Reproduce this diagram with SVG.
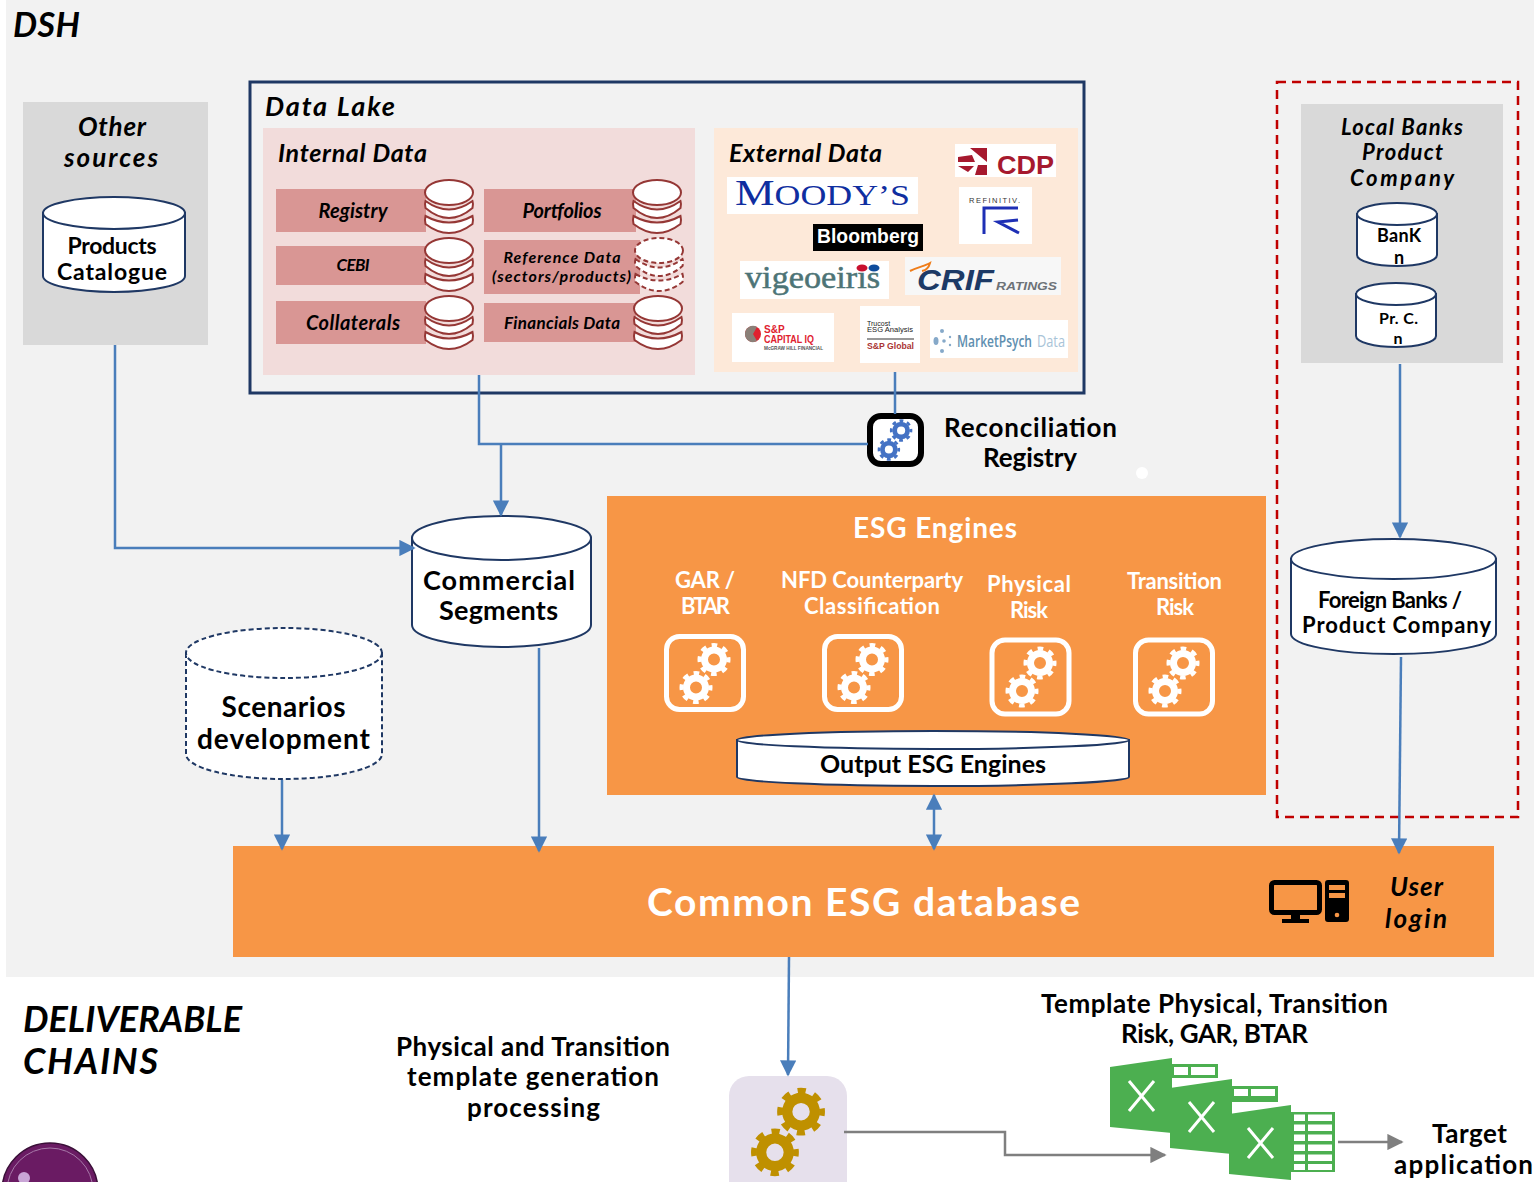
<svg xmlns="http://www.w3.org/2000/svg" xmlns:xlink="http://www.w3.org/1999/xlink" width="1534" height="1182" viewBox="0 0 1534 1182">
<style>
text{font-family:"Lato","Liberation Sans",sans-serif;font-weight:700;fill:#000;text-anchor:middle}
.i{font-style:italic}
.l{text-anchor:start}
.w{fill:#fff}
.a{font-family:"Liberation Sans",Arial,sans-serif}
.s{font-family:"Liberation Serif","Times New Roman",serif;font-weight:400}
.cyl{fill:#fff;stroke:#1f3864;stroke-width:2}
.dash{stroke-dasharray:5 3}
.st{fill:#fff;stroke:#953735;stroke-width:2}
.std{stroke-dasharray:5 3}
.bar{fill:#d99694}
.blue{fill:none;stroke:#4a7ebb;stroke-width:2.5}
.grey{fill:none;stroke:#7f7f7f;stroke-width:2.5}
.box{fill:none;stroke:#fff;stroke-width:5}
.logo{fill:#fff}
</style>
<defs>
<marker id="ab" viewBox="0 0 10 10" refX="9" refY="5" markerWidth="6.500" markerHeight="6.500" orient="auto-start-reverse" markerUnits="strokeWidth"><path d="M0 0L10 5L0 10Z" fill="#4a7ebb"/></marker>
<marker id="ag" viewBox="0 0 10 10" refX="9" refY="5" markerWidth="6.500" markerHeight="6.500" orient="auto" markerUnits="strokeWidth"><path d="M0 0L10 5L0 10Z" fill="#7f7f7f"/></marker>
<g id="gear" fill="none" stroke="currentColor">
<circle r="9.500" stroke-width="7"/>
<circle r="14.500" stroke-width="4" stroke-dasharray="5.700 5.690" stroke-dashoffset="2.850"/>
</g>
<g id="gears2"><use xlink:href="#gear" x="9" y="-14"/><use xlink:href="#gear" x="-9" y="14"/></g>
<g id="stack">
<path class="st" d="M-23.500 36Q0 49 23.500 36Q24.500 40 23.500 44Q0 62 -23.500 44Q-24.500 40 -23.500 36Z"/>
<path class="st" d="M-23.500 21Q0 38 23.500 21Q24.500 24 23.500 28Q0 48 -23.500 28Q-24.500 24 -23.500 21Z"/>
<ellipse class="st" cx="0" cy="12.500" rx="24" ry="12.500"/>
</g>
<g id="stackd">
<path class="st std" d="M-23.500 36Q0 49 23.500 36Q24.500 40 23.500 44Q0 62 -23.500 44Q-24.500 40 -23.500 36Z"/>
<path class="st std" d="M-23.500 21Q0 38 23.500 21Q24.500 24 23.500 28Q0 48 -23.500 28Q-24.500 24 -23.500 21Z"/>
<ellipse class="st std" cx="0" cy="12.500" rx="24" ry="12.500"/>
</g>
<g id="xl">
<path d="M0 9L62 0V75L0 69Z" fill="#4caf50"/>
<path d="M19 23L44 53M44 23L19 53" stroke="#fff" stroke-width="3" fill="none"/>
</g>
</defs>

<rect width="1534" height="1182" fill="#fff"/>
<rect x="6" y="0" width="1528" height="977" fill="#f2f2f2"/>
<text class="i l" x="13" y="37" font-size="34" textLength="67">DSH</text>

<g id="other-sources">
<rect x="23" y="102" width="185" height="243" fill="#d9d9d9"/>
<text class="i" x="112" y="136" font-size="26" textLength="68">Other</text>
<text class="i" x="111" y="167" font-size="26" textLength="94">sources</text>
</g>
<g id="products-catalogue">
<path class="cyl" d="M43 213V276A71 16 0 0 0 185 276V213Z"/>
<ellipse class="cyl" cx="114" cy="213" rx="71" ry="16"/>
<text x="112" y="254" font-size="23" textLength="89">Products</text>
<text x="112" y="280" font-size="23" textLength="110">Catalogue</text>
</g>

<g id="data-lake">
<rect x="250" y="82" width="834" height="311" fill="none" stroke="#1f3864" stroke-width="3"/>
<text class="i l" x="265" y="116" font-size="27" textLength="130">Data Lake</text>
</g>
<g id="internal-data">
<rect x="263" y="128" width="432" height="247" fill="#f2dcdb"/>
<text class="i l" x="278" y="162" font-size="25" textLength="149">Internal Data</text>
</g>
<g id="registry"><rect class="bar" x="276" y="189" width="150" height="43"/><use xlink:href="#stack" x="449" y="180"/><text class="i" x="353" y="218" font-size="20" textLength="69">Registry</text></g>
<g id="portfolios"><rect class="bar" x="484" y="189" width="152" height="43"/><use xlink:href="#stack" x="657" y="180"/><text class="i" x="562" y="218" font-size="20" textLength="79">Portfolios</text></g>
<g id="cebi"><rect class="bar" x="276" y="246" width="150" height="39"/><use xlink:href="#stack" x="449" y="238"/><text class="i" x="353" y="271" font-size="17" textLength="33">CEBI</text></g>
<g id="reference-data"><rect class="bar" x="484" y="240" width="156" height="54"/><use xlink:href="#stackd" x="659" y="238"/><text class="i" x="562" y="263" font-size="16" textLength="117">Reference Data</text><text class="i" x="561.500" y="282" font-size="16" textLength="139">(sectors/products)</text></g>
<g id="collaterals"><rect class="bar" x="276" y="301" width="150" height="43"/><use xlink:href="#stack" x="449" y="296"/><text class="i" x="353" y="330" font-size="20" textLength="94">Collaterals</text></g>
<g id="financials-data"><rect class="bar" x="484" y="303" width="152" height="39"/><use xlink:href="#stack" x="658" y="296"/><text class="i" x="562" y="329" font-size="17" textLength="116">Financials Data</text></g>

<g id="external-data">
<rect x="714" y="128" width="364" height="244" fill="#fde9d9"/>
<text class="i l" x="729" y="162" font-size="25" textLength="153">External Data</text>
</g>
<g id="logo-moodys"><rect class="logo" x="727" y="177" width="191" height="37"/><text class="s l" x="735" y="205" font-size="36" textLength="175" lengthAdjust="spacingAndGlyphs" style="fill:#0f2ea0">M<tspan font-size="29">OODY’S</tspan></text></g>
<g id="logo-cdp"><rect class="logo" x="955" y="144" width="101" height="33"/><path d="M970 148H987V162ZM958 157L972 155L975 162H958ZM958 166H974L968 172ZM975 175H987V165H978Z" fill="#a6192e"/><text class="a l" x="997" y="174" font-size="25" textLength="57" lengthAdjust="spacingAndGlyphs" style="fill:#a6192e">CDP</text></g>
<g id="logo-refinitiv"><rect class="logo" x="959" y="187" width="73" height="57"/><text class="a l" x="969" y="203" font-size="7.500" textLength="51" style="fill:#333;font-weight:400">REFINITIV.</text><path d="M984 234V208H1018M1018 220L998 222L1019 233" fill="none" stroke="#1e2fb5" stroke-width="3"/></g>
<g id="logo-bloomberg"><rect x="813" y="224" width="110" height="27" fill="#000"/><text class="a w l" x="817" y="243" font-size="20" textLength="102" lengthAdjust="spacingAndGlyphs">Bloomberg</text></g>
<g id="logo-vigeo"><rect class="logo" x="740" y="261" width="149" height="38"/><text class="s l" x="745" y="288" font-size="31" textLength="135" lengthAdjust="spacingAndGlyphs" style="fill:#4d7476;font-weight:400;stroke:#4d7476;stroke-width:.5">vigeoeiris</text><ellipse cx="862" cy="268" rx="5.500" ry="3.500" fill="#c8102e"/><ellipse cx="874" cy="268" rx="5.500" ry="3.500" fill="#0f4c9c"/></g>
<g id="logo-crif"><rect x="905" y="257" width="156" height="38" fill="#f7f7f7"/><path d="M910 271C918 267 925 266 930 263C929 267 927 270 922 271" fill="none" stroke="#ef7d1a" stroke-width="2"/><text class="a i l" x="917" y="290" font-size="30" textLength="77" lengthAdjust="spacingAndGlyphs" style="fill:#1d3a66">CRIF</text><text class="a i l" x="996" y="290" font-size="11.500" textLength="61" lengthAdjust="spacingAndGlyphs" style="fill:#6d7278">RATINGS</text></g>
<g id="logo-capital-iq"><rect class="logo" x="732" y="313" width="102" height="49"/><circle cx="753" cy="334" r="8" fill="#e0212f"/><path d="M745 334A8 8 0 0 1 757 327L753 334L757 341A8 8 0 0 1 745 334Z" fill="#8a8078"/><text class="a l" x="764" y="333" font-size="10" style="fill:#e0212f">S&amp;P</text><text class="a l" x="764" y="342.500" font-size="11" textLength="50" lengthAdjust="spacingAndGlyphs" style="fill:#e0212f">CAPITAL IQ</text><text class="a l" x="764" y="350" font-size="5.500" textLength="59" lengthAdjust="spacingAndGlyphs" style="fill:#555">McGRAW HILL FINANCIAL</text></g>
<g id="logo-trucost"><rect class="logo" x="860" y="306" width="60" height="57"/><text class="a l" x="867" y="325.500" font-size="7" style="fill:#222;font-weight:400">Trucost</text><text class="a l" x="867" y="332" font-size="7" textLength="46" lengthAdjust="spacingAndGlyphs" style="fill:#222;font-weight:400">ESG Analysis</text><rect x="867" y="338.500" width="47" height="1" fill="#333"/><text class="a l" x="867" y="348.500" font-size="9" textLength="47" lengthAdjust="spacingAndGlyphs" style="fill:#a33">S&amp;P Global</text></g>
<g id="logo-marketpsych"><rect class="logo" x="930" y="320" width="138" height="38"/><g fill="#86a9c9"><ellipse cx="936" cy="341" rx="2.500" ry="4"/><circle cx="942" cy="331" r="2"/><circle cx="942" cy="351" r="2"/><circle cx="944" cy="341" r="1.800"/><circle cx="950" cy="337" r="1.200"/><circle cx="950" cy="345" r="1.200"/></g><text class="l" x="957" y="347" font-size="16.500" textLength="75" lengthAdjust="spacingAndGlyphs" style="font-family:'Open Sans',sans-serif;font-weight:600;fill:#5f8fb0">MarketPsych</text><text class="l" x="1037" y="347" font-size="16.500" textLength="28" lengthAdjust="spacingAndGlyphs" style="font-family:'Open Sans',sans-serif;font-weight:400;fill:#a9c4d8">Data</text></g>

<g id="reconciliation-registry">
<rect x="870" y="416" width="51" height="48" rx="11" fill="#fff" stroke="#000" stroke-width="6"/>
<g color="#4472c4" transform="translate(895 440) scale(.68)"><use xlink:href="#gears2"/></g>
<text x="1030.500" y="437" font-size="26" textLength="173">Reconciliation</text>
<text x="1030" y="467" font-size="26" textLength="94">Registry</text>
</g>
<circle cx="1142" cy="473" r="6" fill="#fff"/>

<g id="commercial-segments">
<path class="cyl" d="M412 538V625A89.500 22 0 0 0 591 625V538Z"/>
<ellipse class="cyl" cx="501.500" cy="538" rx="89.500" ry="22"/>
<text x="499" y="590" font-size="27" textLength="152">Commercial</text>
<text x="498.500" y="620" font-size="27" textLength="119">Segments</text>
</g>
<g id="scenarios-development">
<path class="cyl dash" d="M186 653V754A98 25 0 0 0 382 754V653Z"/>
<ellipse class="cyl dash" cx="284" cy="653" rx="98" ry="25"/>
<text x="283.500" y="717" font-size="28" textLength="124">Scenarios</text>
<text x="283.500" y="749" font-size="28" textLength="173">development</text>
</g>

<g id="esg-engines">
<rect x="607" y="496" width="659" height="299" fill="#f79646"/>
<text class="w" x="935" y="538" font-size="28" textLength="164">ESG Engines</text>
</g>
<g id="engine-gar"><text class="w" x="705" y="588" font-size="22" textLength="60">GAR /</text><text class="w" x="705.500" y="614" font-size="22" textLength="49">BTAR</text><rect class="box" x="666.500" y="636.500" width="77" height="73" rx="13"/><g color="#fff" transform="translate(705 673.500)"><use xlink:href="#gears2"/></g></g>
<g id="engine-nfd"><text class="w" x="872" y="588" font-size="22" textLength="182">NFD Counterparty</text><text class="w" x="872" y="614" font-size="22" textLength="136">Classification</text><rect class="box" x="824.500" y="636.500" width="77" height="73" rx="13"/><g color="#fff" transform="translate(863 673.500)"><use xlink:href="#gears2"/></g></g>
<g id="engine-physical"><text class="w" x="1029" y="592" font-size="22" textLength="84">Physical</text><text class="w" x="1029" y="618" font-size="22" textLength="38">Risk</text><rect class="box" x="992" y="640" width="77" height="74" rx="13"/><g color="#fff" transform="translate(1031 677)"><use xlink:href="#gears2"/></g></g>
<g id="engine-transition"><text class="w" x="1174.500" y="589" font-size="22" textLength="95">Transition</text><text class="w" x="1175" y="615" font-size="22" textLength="38">Risk</text><rect class="box" x="1135.500" y="640" width="77" height="74" rx="13"/><g color="#fff" transform="translate(1174 677)"><use xlink:href="#gears2"/></g></g>
<g id="output-esg-engines">
<path class="cyl" d="M737 740V777A196 9 0 0 0 1129 777V740Z"/>
<ellipse class="cyl" cx="933" cy="740" rx="196" ry="9"/>
<text x="933" y="773" font-size="25" textLength="226">Output ESG Engines</text>
</g>

<g id="local-banks">
<rect x="1277" y="82" width="241" height="735" fill="none" stroke="#c00000" stroke-width="2.500" stroke-dasharray="9 6"/>
<rect x="1301" y="104" width="202" height="259" fill="#d9d9d9"/>
<text class="i" x="1402" y="135" font-size="22" textLength="122">Local Banks</text>
<text class="i" x="1402.500" y="160" font-size="22" textLength="81">Product</text>
<text class="i" x="1402" y="186" font-size="22" textLength="104">Company</text>
</g>
<g id="bank-n">
<path class="cyl" d="M1357 214V255A40 11 0 0 0 1437 255V214Z"/>
<ellipse class="cyl" cx="1397" cy="214" rx="40" ry="11"/>
<text x="1399" y="242" font-size="18" textLength="44">BanK</text>
<text x="1399" y="264" font-size="18">n</text>
</g>
<g id="pr-c-n">
<path class="cyl" d="M1356 294V336A40 11 0 0 0 1436 336V294Z"/>
<ellipse class="cyl" cx="1396" cy="294" rx="40" ry="11"/>
<text x="1398.500" y="324" font-size="16" textLength="39">Pr. C.</text>
<text x="1398" y="344" font-size="16">n</text>
</g>
<g id="foreign-banks">
<path class="cyl" d="M1291 559V634A102.500 20 0 0 0 1496 634V559Z"/>
<ellipse class="cyl" cx="1393.500" cy="559" rx="102.500" ry="20"/>
<text x="1390" y="608" font-size="22" textLength="144">Foreign Banks /</text>
<text x="1396.500" y="633" font-size="22" textLength="189">Product Company</text>
</g>

<g id="common-esg-database">
<rect x="233" y="846" width="1261" height="111" fill="#f79646"/>
<text class="w" x="863.500" y="916" font-size="39" textLength="433">Common ESG database</text>
<rect x="1271.500" y="882.500" width="48" height="30" rx="3" fill="none" stroke="#000" stroke-width="5"/>
<path d="M1291 915h9v5h-9zM1282 919h27v4h-27z"/>
<path d="M1328 880h18a3 3 0 0 1 3 3v36a3 3 0 0 1-3 3h-18a3 3 0 0 1-3-3v-36a3 3 0 0 1 3-3zM1329 885v5h16v-5zM1329 893v5h16v-5z" fill-rule="evenodd"/>
<circle cx="1337" cy="915" r="2.300" fill="#f79646"/>
<text class="i" x="1416.500" y="896" font-size="26" textLength="53">User</text>
<text class="i" x="1416" y="928" font-size="26" textLength="62">login</text>
</g>

<text class="i l" x="23" y="1032" font-size="36" textLength="219">DELIVERABLE</text>
<text class="i l" x="23" y="1074" font-size="36" textLength="135">CHAINS</text>
<circle cx="50" cy="1191" r="48" fill="#6a1b63" stroke="#3a0f38" stroke-width="1.500"/>
<circle cx="50" cy="1191" r="43" fill="none" stroke="#a678a8" stroke-width="1"/>
<circle cx="24" cy="1178" r="6" fill="#c9a5d6"/>

<g id="template-generation">
<text x="533" y="1056" font-size="26" textLength="274">Physical and Transition</text>
<text x="533" y="1086" font-size="26" textLength="252">template generation</text>
<text x="533.500" y="1117" font-size="26" textLength="133">processing</text>
<rect x="729" y="1076" width="118" height="130" rx="20" fill="#e6e0ec"/>
<g color="#bf9000" transform="translate(788 1132) scale(1.450)"><use xlink:href="#gears2"/></g>
</g>
<g id="excel-templates">
<text x="1214.500" y="1013" font-size="26" textLength="347">Template Physical, Transition</text>
<text x="1214.500" y="1043" font-size="26" textLength="187">Risk, GAR, BTAR</text>
<g fill="#4caf50">
<rect x="1172" y="1064" width="46" height="14"/><rect x="1232" y="1086" width="46" height="16"/><rect x="1291" y="1112" width="44" height="60"/>
</g>
<g fill="#fff"><rect x="1174" y="1067" width="14" height="8"/><rect x="1191" y="1067" width="24" height="8"/><rect x="1234" y="1089" width="14" height="7"/><rect x="1251" y="1089" width="24" height="7"/>
<rect x="1294" y="1114.500" width="11" height="6.500"/><rect x="1308" y="1114.500" width="24" height="6.500"/><rect x="1294" y="1124.500" width="11" height="6.500"/><rect x="1308" y="1124.500" width="24" height="6.500"/><rect x="1294" y="1134.500" width="11" height="6.500"/><rect x="1308" y="1134.500" width="24" height="6.500"/><rect x="1294" y="1144.500" width="11" height="6.500"/><rect x="1308" y="1144.500" width="24" height="6.500"/><rect x="1294" y="1154.500" width="11" height="6.500"/><rect x="1308" y="1154.500" width="24" height="6.500"/><rect x="1294" y="1164" width="11" height="6"/><rect x="1308" y="1164" width="24" height="6"/></g>
<path d="M1232 1098l-6 0v6h6zM1287 1103h-50v5h50z" fill="#fff"/>
<use xlink:href="#xl" x="1110" y="1058"/><use xlink:href="#xl" x="1170" y="1079"/><use xlink:href="#xl" x="1229" y="1105"/>
</g>
<g id="target-application">
<text x="1469.500" y="1143" font-size="26" textLength="75">Target</text>
<text x="1463.500" y="1174" font-size="26" textLength="139">application</text>
</g>

<g id="connectors">
<path class="blue" marker-end="url(#ab)" d="M115 345V548H414"/>
<path class="blue" d="M479 375V444H868M895 372V414"/>
<path class="blue" marker-end="url(#ab)" d="M501 444V515"/>
<path class="blue" marker-end="url(#ab)" d="M539 648V851"/>
<path class="blue" marker-end="url(#ab)" d="M282 780V849"/>
<path class="blue" marker-start="url(#ab)" marker-end="url(#ab)" d="M934 795V849"/>
<path class="blue" marker-end="url(#ab)" d="M1400 364V537"/>
<path class="blue" marker-end="url(#ab)" d="M1401 657L1399 853"/>
<path class="blue" marker-end="url(#ab)" d="M789 957L788 1075"/>
<path class="grey" marker-end="url(#ag)" d="M844 1132H1005V1155H1165"/>
<path class="grey" marker-end="url(#ag)" d="M1338 1142H1402"/>
</g>
</svg>
